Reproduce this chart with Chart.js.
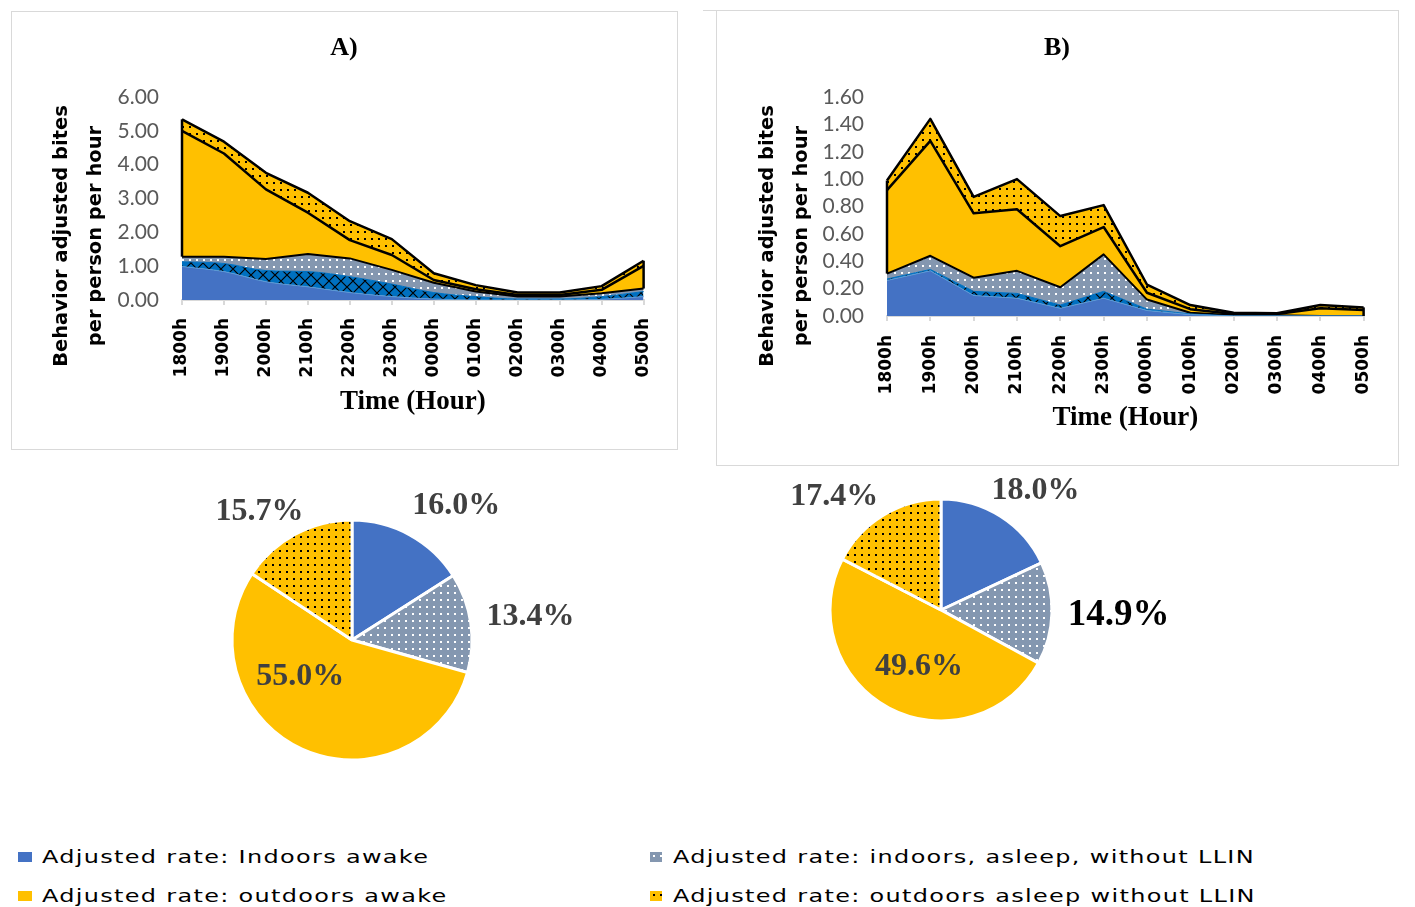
<!DOCTYPE html>
<html>
<head>
<meta charset="utf-8">
<script src="https://cdn.jsdelivr.net/npm/chart.js@4.4.0/dist/chart.umd.min.js"></script>
<style>
  body { margin: 0; background: #fff; width: 1415px; height: 907px; position: relative; overflow: hidden; }
  .box { position: absolute; border: 1px solid #D9D9D9; box-sizing: border-box; }
  .wrap { position: absolute; }
  canvas { display: block; }
  .leg { position: absolute; font-family: "DejaVu Sans", Verdana, sans-serif; font-size: 18px; color: #000;
         letter-spacing: 1px; transform: scaleX(1.33); transform-origin: left center; white-space: nowrap; line-height: 20px; }
  .mk { position: absolute; }
</style>
</head>
<body>
<div class="box" style="left:11px;top:11px;width:667px;height:439px;"></div>
<div class="box" style="left:716px;top:10px;width:683px;height:456px;"></div>
<div style="position:absolute;left:703px;top:10px;width:14px;height:1px;background:#D9D9D9;"></div>

<div class="wrap" style="left:11px;top:11px;"><canvas id="areaA" width="666" height="438"></canvas></div>
<div class="wrap" style="left:716px;top:10px;"><canvas id="areaB" width="682" height="455"></canvas></div>
<div class="wrap" style="left:150px;top:470px;"><canvas id="pieA" width="480" height="340"></canvas></div>
<div class="wrap" style="left:760px;top:460px;"><canvas id="pieB" width="450" height="300"></canvas></div>

<canvas class="mk" id="mk0" width="14" height="10" style="left:18px;top:852px;"></canvas>
<div class="leg" style="left:42px;top:847px;">Adjusted rate: Indoors awake</div>
<canvas class="mk" id="mk1" width="12" height="10" style="left:650px;top:852px;"></canvas>
<div class="leg" style="left:673px;top:847px;">Adjusted rate: indoors, asleep, without LLIN</div>
<canvas class="mk" id="mk2" width="14" height="10" style="left:18px;top:891px;"></canvas>
<div class="leg" style="left:42px;top:886px;">Adjusted rate: outdoors awake</div>
<canvas class="mk" id="mk3" width="12" height="10" style="left:650px;top:891px;"></canvas>
<div class="leg" style="left:673px;top:886px;">Adjusted rate: outdoors asleep without LLIN</div>

<script>
const hours = ['1800h', '1900h', '2000h', '2100h', '2200h', '2300h', '0000h', '0100h', '0200h', '0300h', '0400h', '0500h'];

// A) bites per person per hour, one array per stacked layer (bottom to top)
const aIndoorsAwake   = [0.99, 0.84, 0.54, 0.39, 0.22, 0.10, 0.03, 0.00, 0.00, 0.00, 0.02, 0.10];
const aIndoorsHatched = [0.14, 0.24, 0.33, 0.45, 0.47, 0.37, 0.19, 0.10, 0.03, 0.03, 0.08, 0.15];
const aIndoorsAsleep  = [0.15, 0.20, 0.34, 0.52, 0.54, 0.42, 0.29, 0.15, 0.07, 0.07, 0.10, 0.09];
const aOutdoorsAwake  = [3.72, 3.05, 2.06, 1.22, 0.54, 0.44, 0.08, 0.07, 0.05, 0.05, 0.10, 0.67];
const aOutdoorsAsleep = [0.34, 0.35, 0.49, 0.59, 0.56, 0.47, 0.20, 0.12, 0.07, 0.07, 0.11, 0.15];
const aTicks = { max: 6, step: 1 };

// B)
const bIndoorsAwake   = [0.26, 0.33, 0.15, 0.13, 0.056, 0.13, 0.04, 0.01, 0, 0, 0, 0];
const bIndoorsHatched = [0.01, 0.01, 0.03, 0.035, 0.024, 0.05, 0.01, 0.005, 0, 0, 0, 0];
const bIndoorsAsleep  = [0.04, 0.10, 0.10, 0.165, 0.13, 0.27, 0.07, 0.009, 0.005, 0.005, 0, 0];
const bOutdoorsAwake  = [0.61, 0.84, 0.47, 0.45, 0.30, 0.20, 0.05, 0.026, 0.01, 0.01, 0.056, 0.044];
const bOutdoorsAsleep = [0.07, 0.16, 0.12, 0.22, 0.22, 0.16, 0.06, 0.03, 0.009, 0.005, 0.024, 0.019];
const bTicks = { max: 1.6, step: 0.2 };

// shares of bites by behaviour (%)
const pieLabelsText = ['Indoors awake', 'indoors, asleep, without LLIN', 'outdoors awake', 'outdoors asleep without LLIN'];
const aShares = [16.0, 13.4, 55.0, 15.7];
const bShares = [18.0, 14.9, 49.6, 17.4];

const BLUE = '#4472C4', GRAY = '#8497B0', YELLOW = '#FFC000', DARKBLUE = '#0070C0';

function tile(size, paint) {
  const c = document.createElement('canvas');
  c.width = c.height = size;
  paint(c.getContext('2d'), size);
  return c;
}
function dotTile(bg, fg) {
  return tile(7, (g, s) => { g.fillStyle = bg; g.fillRect(0, 0, s, s); g.fillStyle = fg; g.fillRect(3, 3, 2, 2); });
}
function crossTile(bg, fg) {
  return tile(12, (g, s) => {
    g.fillStyle = bg; g.fillRect(0, 0, s, s);
    g.strokeStyle = fg; g.lineWidth = 1.2;
    g.beginPath(); g.moveTo(0, 0); g.lineTo(s, s); g.moveTo(s, 0); g.lineTo(0, s); g.stroke();
  });
}
const pctx = document.createElement('canvas').getContext('2d');
const grayDots = pctx.createPattern(dotTile(GRAY, '#fff'), 'repeat');
const yellowDots = pctx.createPattern(dotTile(YELLOW, '#000'), 'repeat');
const blueCross = pctx.createPattern(crossTile(DARKBLUE, '#000'), 'repeat');

// legend swatches
[[BLUE], [grayDots], [YELLOW], [yellowDots]].forEach(([fill], i) => {
  const c = document.getElementById('mk' + i), g = c.getContext('2d');
  g.fillStyle = fill; g.fillRect(0, 0, c.width, c.height);
});

// panel letter plus two-line rotated y title
const sideTitle = {
  id: 'sideTitle',
  afterDraw(chart, args, o) {
    const ctx = chart.ctx;
    ctx.save();
    ctx.fillStyle = '#000';
    ctx.textAlign = 'center';
    ctx.textBaseline = 'middle';
    ctx.font = 'bold 26px "Liberation Serif"';
    ctx.fillText(o.panel, chart.width / 2, o.panelY);
    ctx.font = 'bold 19.5px "DejaVu Sans"';
    o.lines.forEach((t, i) => {
      ctx.save();
      ctx.translate(o.x[i], o.y);
      ctx.rotate(-Math.PI / 2);
      ctx.fillText(t, 0, 0);
      ctx.restore();
    });
    ctx.restore();
  }
};

// vertical outline at both ends of the two outdoor layers
const edgeLines = {
  id: 'edgeLines',
  afterDatasetsDraw(chart) {
    const { ctx, scales: { x, y } } = chart;
    const ds = chart.data.datasets;
    const n = chart.data.labels.length;
    ctx.save();
    ctx.strokeStyle = '#000';
    ctx.lineWidth = 2.5;
    [0, n - 1].forEach(i => {
      const low = ds[0].data[i] + ds[1].data[i] + ds[2].data[i];
      const high = low + ds[3].data[i] + ds[4].data[i];
      ctx.beginPath();
      ctx.moveTo(x.getPixelForValue(i), y.getPixelForValue(low));
      ctx.lineTo(x.getPixelForValue(i), y.getPixelForValue(high));
      ctx.stroke();
    });
    ctx.restore();
  }
};

function areaChart(id, panel, layers, ticks, lay) {
  const smooth = id === 'areaA';
  new Chart(document.getElementById(id), {
    type: 'line',
    data: {
      labels: hours,
      datasets: [
        { data: layers[0], fill: 'origin', backgroundColor: BLUE, borderColor: '#5B9BD5', borderWidth: 1, cubicInterpolationMode: smooth ? 'monotone' : 'default' },
        { data: layers[1], fill: '-1', backgroundColor: blueCross, borderColor: DARKBLUE, borderWidth: 1, cubicInterpolationMode: smooth ? 'monotone' : 'default' },
        { data: layers[2], fill: '-1', backgroundColor: grayDots, borderColor: '#000', borderWidth: 2 },
        { data: layers[3], fill: '-1', backgroundColor: YELLOW, borderColor: '#000', borderWidth: 2.5 },
        { data: layers[4], fill: '-1', backgroundColor: yellowDots, borderColor: '#000', borderWidth: 2.5 }
      ]
    },
    options: {
      responsive: false,
      animation: false,
      elements: { point: { radius: 0 }, line: { tension: 0, borderJoinStyle: 'round' } },
      layout: { padding: { left: 0, right: 29, top: lay.top, bottom: 31 } },
      plugins: {
        legend: { display: false },
        tooltip: { enabled: false },
        title: { display: false },
        filler: { drawTime: 'beforeDatasetsDraw' },
        sideTitle: { panel: panel, panelY: lay.panelY, lines: ['Behavior adjusted bites', 'per person per hour'], x: lay.titleX, y: lay.titleY }
      },
      scales: {
        x: {
          grid: { display: true, drawOnChartArea: false, drawTicks: true, tickLength: 5, color: '#D9D9D9', lineWidth: 2 },
          border: { color: '#D9D9D9', width: 2 },
          ticks: { minRotation: 90, maxRotation: 90, padding: lay.tickPad, color: '#000', font: { family: '"DejaVu Sans"', size: 17, weight: 'bold' } },
          title: { display: true, text: 'Time (Hour)', color: '#000', font: { family: '"Liberation Serif"', size: 27, weight: 'bold' }, padding: { top: 0, bottom: 0 } },
          afterFit: s => { s.height = 118; }
        },
        y: {
          stacked: true,
          min: 0,
          max: ticks.max,
          grid: { display: false },
          border: { display: false },
          ticks: { stepSize: ticks.step, autoSkip: false, padding: lay.yPad, color: '#595959', font: { family: 'Lato', size: 21 }, callback: v => Number(v).toFixed(2) },
          afterFit: s => { s.width = 171; }
        }
      }
    },
    plugins: [sideTitle, edgeLines]
  });
}

areaChart('areaA', 'A)', [aIndoorsAwake, aIndoorsHatched, aIndoorsAsleep, aOutdoorsAwake, aOutdoorsAsleep], aTicks,
  { top: 86, panelY: 37, titleX: [51, 85], titleY: 225, tickPad: 13, yPad: 15 });
areaChart('areaB', 'B)', [bIndoorsAwake, bIndoorsHatched, bIndoorsAsleep, bOutdoorsAwake, bOutdoorsAsleep], bTicks,
  { top: 87, panelY: 38, titleX: [52, 86], titleY: 226, tickPad: 14, yPad: 15 });

// percentage labels placed around each slice
const sliceLabels = {
  id: 'sliceLabels',
  afterDatasetsDraw(chart, args, o) {
    const ctx = chart.ctx;
    const values = chart.data.datasets[0].data;
    chart.getDatasetMeta(0).data.forEach((arc, i) => {
      const p = arc.getProps(['x', 'y', 'startAngle', 'endAngle', 'outerRadius'], true);
      const a = (p.startAngle + p.endAngle) / 2 + o.shift[i] * Math.PI / 180;
      const r = p.outerRadius * o.dist[i];
      ctx.save();
      ctx.font = 'bold ' + o.size[i] + 'px "Liberation Serif"';
      ctx.fillStyle = o.color[i];
      ctx.textAlign = 'center';
      ctx.textBaseline = 'middle';
      ctx.fillText(values[i].toFixed(1) + '%', p.x + Math.cos(a) * r, p.y + Math.sin(a) * r);
      ctx.restore();
    });
  }
};

function pieChart(id, shares, pad, labelOpts) {
  new Chart(document.getElementById(id), {
    type: 'pie',
    data: {
      labels: pieLabelsText,
      datasets: [{ data: shares, backgroundColor: [BLUE, grayDots, YELLOW, yellowDots], borderColor: '#fff', borderWidth: 3 }]
    },
    options: {
      responsive: false,
      animation: false,
      layout: { padding: pad },
      plugins: { legend: { display: false }, tooltip: { enabled: false }, sliceLabels: labelOpts }
    },
    plugins: [sliceLabels]
  });
}

pieChart('pieA', aShares, { left: 80.5, right: 156.5, top: 48.5, bottom: 48.5 }, {
  dist: [1.42, 1.5, 0.53, 1.32], shift: [9, 1, 30, -7.5], size: [32, 32, 32, 32], color: ['#404040', '#404040', '#404040', '#404040']
});
pieChart('pieB', bShares, { left: 68.5, right: 156.5, top: 37.5, bottom: 37.5 }, {
  dist: [1.37, 1.6, 0.55, 1.4], shift: [6, 0, -6.7, -12], size: [32, 37, 32, 32], color: ['#404040', '#000', '#404040', '#404040']
});
</script>
</body>
</html>
